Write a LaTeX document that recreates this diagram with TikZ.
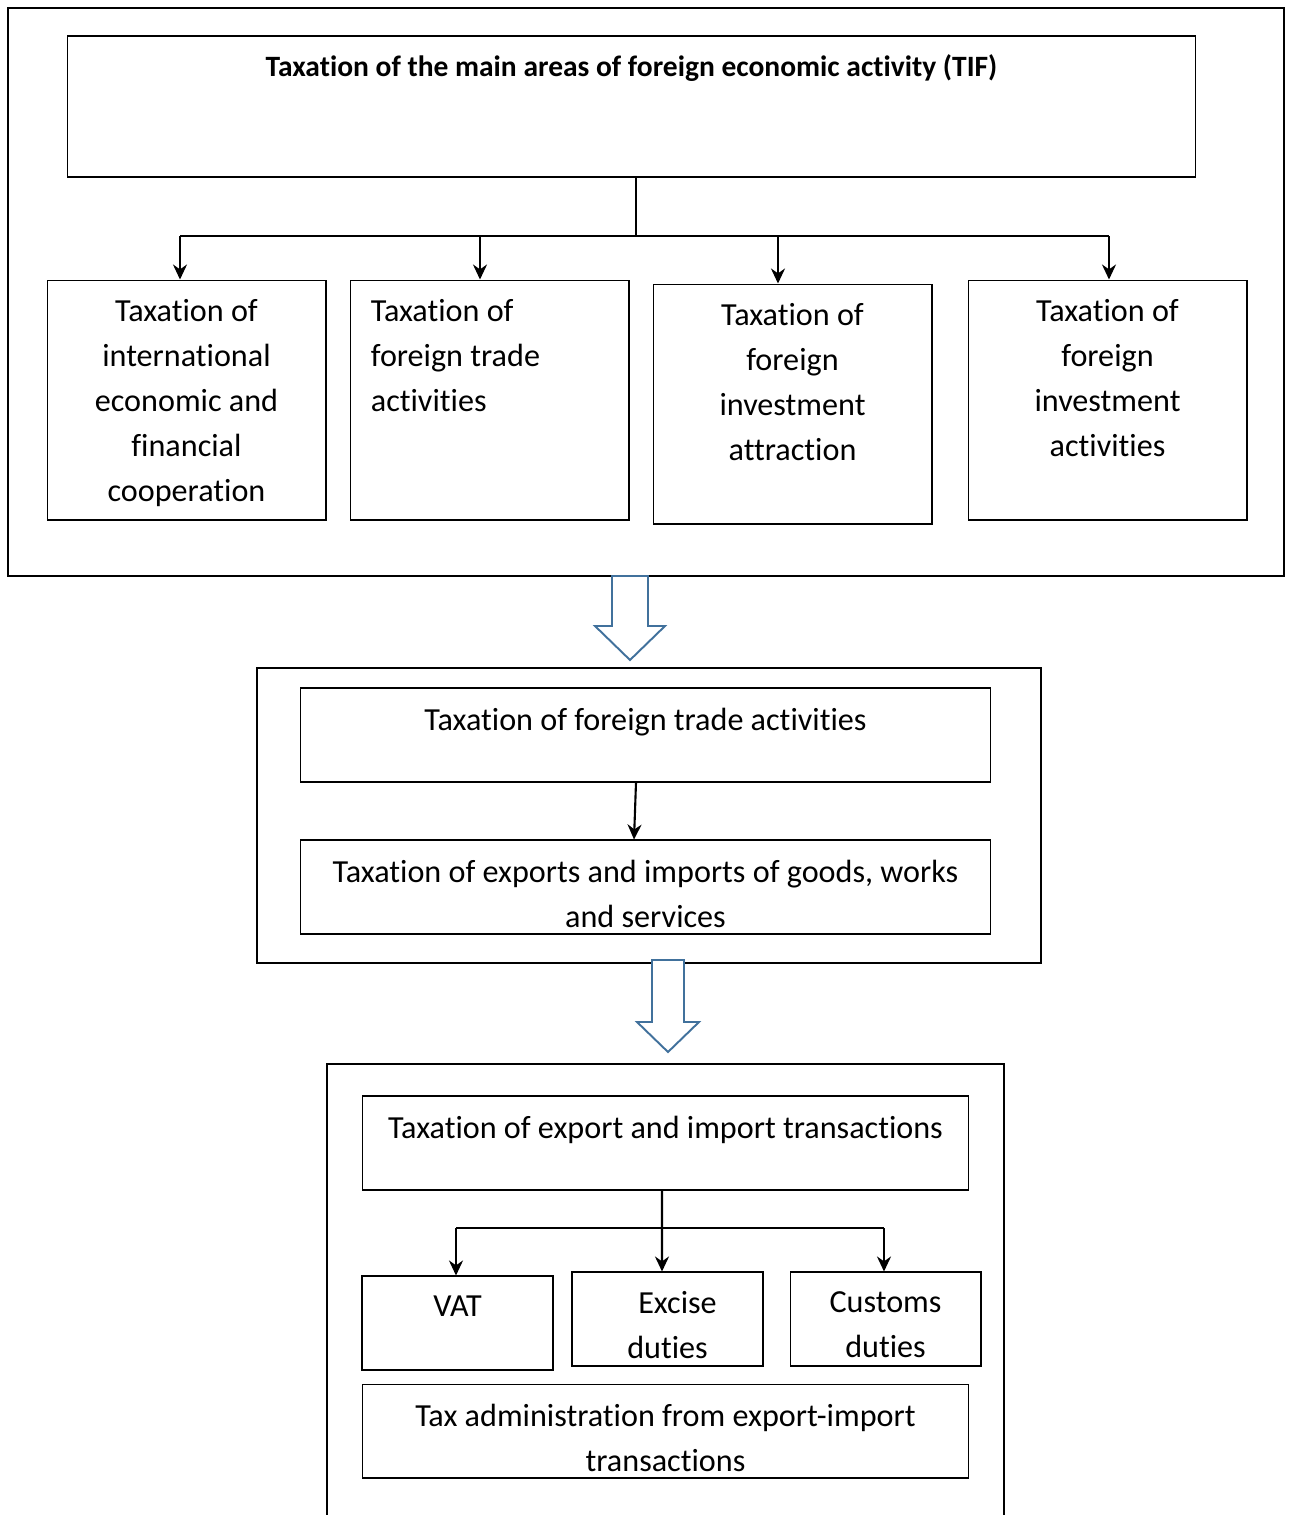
\documentclass[tikz,border=0pt]{standalone}
\usepackage{fontspec}
\setmainfont{Carlito}[Ligatures=NoCommon, RawFeature={-liga;-clig;-calt}]
\usepackage{tikz}
\usetikzlibrary{arrows.meta}
\definecolor{arrowblue}{RGB}{65,113,156}

\begin{document}
\begin{tikzpicture}[x=0.02cm,y=-0.02cm,
  box/.style={draw, rectangle, line width=0.6pt, inner sep=0pt},
  txt/.style={inner sep=0pt, align=center, font=\fontsize{18.3}{25.6}\selectfont},
  frame/.style={line width=1.3pt},
  hollow/.style={draw=arrowblue, fill=white, line width=1.1pt, line join=miter},
  >={Stealth[length=0.3cm,width=0.28cm]}]
\useasboundingbox (0,0) rectangle (1291,1515);

% first block
\draw[frame] (8,8) rectangle (1284,576);
\node[box, minimum width=22.58cm, minimum height=2.82cm] (tif) at (631.5,106.5) {};
\node[txt, anchor=north, font=\fontsize{16.8}{20}\selectfont\bfseries] (tift) at ([yshift=-0.38cm]tif.north)
  {Taxation of the main areas of foreign economic activity (TIF)};

\node[box, minimum width=5.58cm, minimum height=4.8cm] (intl) at (186.5,400) {};
\node[box, minimum width=5.58cm, minimum height=4.8cm] (trade) at (489.5,400) {};
\node[box, minimum width=5.58cm, minimum height=4.8cm] (attr) at (792.5,404) {};
\node[box, minimum width=5.58cm, minimum height=4.8cm] (invest) at (1107.5,400) {};
\node[txt, anchor=north] (intlt) at ([yshift=-0.4cm]intl.north)
  {Taxation of\\international\\economic and\\financial\\cooperation};
\node[txt, anchor=north west, align=left] (tradet) at ([xshift=0.42cm,yshift=-0.4cm]trade.north west)
  {Taxation of\\foreign trade\\activities};
\node[txt, anchor=north] (attrt) at ([yshift=-0.4cm]attr.north)
  {Taxation of\\foreign\\investment\\attraction};
\node[txt, anchor=north] (investt) at ([yshift=-0.4cm]invest.north)
  {Taxation of\\foreign\\investment\\activities};

\coordinate (hub) at (636,236);
\coordinate (jA) at (180,236);
\coordinate (jB) at (480,236);
\coordinate (jC) at (778,236);
\coordinate (jD) at (1109,236);
\draw[line width=0.8pt] (tif.south -| hub) -- (hub);
\draw[line width=0.8pt] (jA) -- (jD);
\draw[->,line width=1.2pt] (jA) -- (jA |- intl.north);
\draw[->,line width=1.2pt] (jB) -- (jB |- trade.north);
\draw[->,line width=1.2pt] (jC) -- (jC |- attr.north);
\draw[->,line width=1.2pt] (jD) -- (jD |- invest.north);

\draw[hollow] (612,576) -- (612,626) -- (595,626) -- (630,660) -- (665,626) -- (648,626) -- (648,576) -- cycle;

% second block
\draw[frame] (257,668) rectangle (1041,963);
\node[box, minimum width=13.82cm, minimum height=1.88cm] (ftop) at (645.5,735) {};
\node[box, minimum width=13.82cm, minimum height=1.88cm] (fexp) at (645.5,887) {};
\node[txt, anchor=north] (ftopt) at ([yshift=-0.4cm]ftop.north) {Taxation of foreign trade activities};
\node[txt, anchor=north] (fexpt) at ([yshift=-0.4cm]fexp.north) {Taxation of exports and imports of goods, works\\and services};
\draw[->,line width=1.2pt] ([xshift=-0.19cm]ftop.south) -- ([xshift=-0.23cm]fexp.north);

\draw[hollow] (652,960) -- (652,1022) -- (637,1022) -- (668,1052) -- (699,1022) -- (684,1022) -- (684,960) -- cycle;

% third block
\draw[frame] (327,1515) |- (1004,1064) -- (1004,1515);
\node[box, minimum width=12.14cm, minimum height=1.88cm] (eit) at (665.5,1143) {};
\node[box, minimum width=3.82cm, minimum height=1.88cm] (vat) at (457.5,1323) {};
\node[box, minimum width=3.82cm, minimum height=1.88cm] (excise) at (667.5,1319) {};
\node[box, minimum width=3.82cm, minimum height=1.88cm] (customs) at (885.5,1319) {};
\node[box, minimum width=12.14cm, minimum height=1.88cm] (admin) at (665.5,1431) {};
\node[txt, anchor=north] (eitt) at ([yshift=-0.4cm]eit.north) {Taxation of export and import transactions};
\node[txt, anchor=north] (vatt) at ([yshift=-0.4cm]vat.north) {VAT};
\node[txt, anchor=north] (exciset) at ([yshift=-0.4cm]excise.north) {\hspace*{0.4cm}Excise\\duties};
\node[txt, anchor=north] (customst) at ([yshift=-0.4cm]customs.north) {Customs\\duties};
\node[txt, anchor=north] (admint) at ([yshift=-0.4cm]admin.north) {Tax administration from export-import\\transactions};

\coordinate (kV) at (456,1228);
\coordinate (kC) at (884,1228);
\draw[line width=0.8pt] (kV) -- (kC);
\draw[->,line width=1.2pt] ([xshift=-0.07cm]eit.south) -- ([xshift=-0.11cm]excise.north);
\draw[->,line width=1.2pt] (kV) -- (kV |- vat.north);
\draw[->,line width=1.2pt] (kC) -- (kC |- customs.north);
\end{tikzpicture}
\end{document}
